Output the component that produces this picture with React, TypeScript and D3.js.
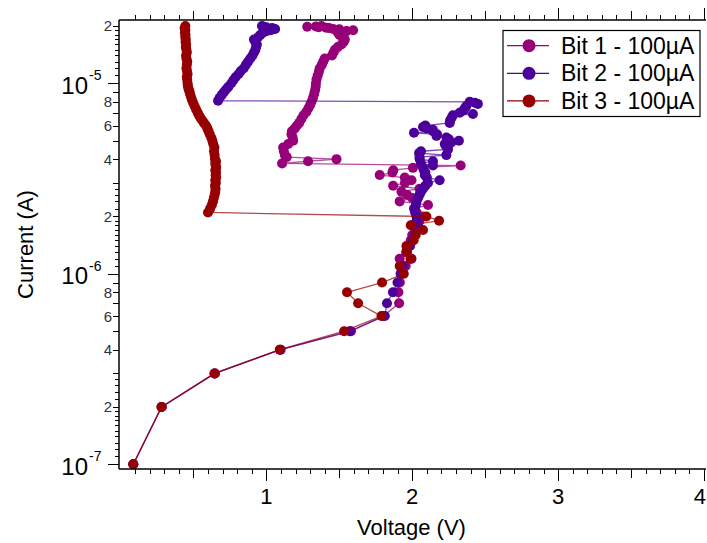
import React from "react";
import * as d3 from "d3";

// ---- Data (current in µA, voltage in V) ----
const bit1Current = [0.1,0.2,0.3,0.4,0.5,0.6,0.7,0.8,0.9,1.0,1.1,1.2,1.3,1.4,1.5,1.6,1.7,1.8,1.9,2.0,2.1,2.2,2.3,2.4,2.5,2.6,2.7,2.8,2.9,3.0,3.1,3.2,3.3,3.4,3.5,3.6,3.7,3.8,3.9,4.0,4.1,4.2,4.4,4.6,4.8,5.0,5.2,5.4,5.6,5.8,6.0,6.2,6.5,6.8,7.1,7.4,7.7,8.0,8.4,8.8,9.2,9.6,10.0,10.5,11.0,11.5,12.0,12.5,13.0,13.5,14.0,14.5,15.0,15.5,16.0,16.5,17.0,17.5,18.0,18.3,18.5,18.8,19.0,19.2,19.3,19.5,19.6,19.7,19.8,19.9,20.0];
const bit1Voltage = [0.088,0.282,0.648,1.098,1.58,1.80,1.91,1.905,1.915,1.93,1.955,1.914,1.96,1.975,1.99,2.0,2.02,2.0,2.05,2.07,2.03,2.012,2.108,1.914,2.0,1.964,1.926,2.05,1.869,1.95,1.995,1.949,1.777,1.864,1.87,2.005,2.332,1.108,1.286,1.481,1.14,1.127,1.12,1.115,1.15,1.184,1.18,1.172,1.175,1.195,1.21,1.225,1.24,1.255,1.275,1.288,1.30,1.31,1.32,1.328,1.334,1.338,1.34,1.344,1.352,1.36,1.366,1.38,1.39,1.40,1.45,1.46,1.47,1.49,1.515,1.53,1.538,1.52,1.50,1.53,1.49,1.55,1.595,1.50,1.458,1.43,1.41,1.36,1.28,1.34,1.378];

const bit2Current = [0.1,0.2,0.3,0.4,0.5,0.6,0.7,0.8,0.9,1.0,1.1,1.2,1.3,1.4,1.5,1.6,1.7,1.8,1.9,2.0,2.1,2.2,2.3,2.4,2.5,2.6,2.7,2.8,2.9,3.0,3.1,3.2,3.3,3.4,3.5,3.6,3.7,3.8,3.9,4.0,4.1,4.2,4.3,4.4,4.5,4.6,4.7,4.8,4.9,5.0,5.1,5.2,5.3,5.4,5.5,5.6,5.7,5.8,5.9,6.0,6.2,6.4,6.6,6.8,6.9,7.0,7.2,7.4,7.6,7.8,7.9,8.0,8.1,8.4,8.7,9.0,9.3,9.6,10.0,10.4,10.8,11.2,11.6,12.0,12.5,13.0,13.5,14.0,14.5,15.0,15.5,16.0,16.5,17.0,17.5,18.0,18.5,18.8,19.0,19.3,19.5,19.7,19.8,20.0];
const bit2Voltage = [0.088,0.282,0.645,1.095,1.572,1.812,1.827,1.868,1.899,1.92,1.935,1.995,1.96,1.985,2.005,2.02,2.035,2.04,2.03,2.029,2.02,2.017,2.025,2.029,2.04,2.05,2.06,2.074,2.09,2.108,2.188,2.10,2.086,2.09,2.08,2.074,2.142,2.06,2.142,2.051,2.05,2.234,2.047,2.06,2.245,2.245,2.23,2.223,2.268,2.32,2.25,2.234,2.166,2.17,2.012,2.142,2.142,2.10,2.074,2.09,2.257,2.26,2.27,2.279,2.416,2.325,2.35,2.36,2.371,2.45,2.43,2.394,0.669,0.68,0.695,0.71,0.725,0.74,0.76,0.775,0.79,0.81,0.825,0.845,0.86,0.875,0.89,0.905,0.915,0.925,0.93,0.935,0.925,0.915,0.945,0.96,0.98,1.0,1.03,1.06,1.04,1.0,0.98,0.97];

const bit3Current = [0.1,0.2,0.3,0.4,0.5,0.6,0.7,0.8,0.9,1.0,1.1,1.2,1.3,1.4,1.5,1.6,1.7,1.8,1.9,2.0,2.1,2.2,2.3,2.4,2.5,2.6,2.7,2.8,2.9,3.0,3.1,3.2,3.3,3.4,3.5,3.6,3.7,3.8,3.9,4.0,4.2,4.4,4.6,4.8,5.0,5.2,5.4,5.6,5.8,6.0,6.2,6.4,6.6,6.8,7.0,7.3,7.6,7.9,8.2,8.5,8.8,9.1,9.4,9.7,10.0,10.4,10.8,11.2,11.6,12.0,12.5,13.0,13.5,14.0,14.5,15.0,15.5,16.0,16.5,17.0,17.5,18.0,18.5,19.0,19.5,20.0];
const bit3Voltage = [0.088,0.282,0.645,1.092,1.533,1.789,1.629,1.553,1.793,1.942,1.914,1.988,1.964,1.96,2.01,2.024,2.074,1.99,2.184,2.097,0.600,0.615,0.626,0.634,0.640,0.646,0.650,0.652,0.648,0.654,0.650,0.656,0.652,0.655,0.650,0.656,0.653,0.650,0.655,0.648,0.645,0.641,0.644,0.636,0.630,0.622,0.612,0.604,0.596,0.586,0.572,0.560,0.548,0.538,0.530,0.518,0.508,0.498,0.490,0.483,0.477,0.472,0.466,0.462,0.460,0.458,0.455,0.460,0.456,0.452,0.455,0.458,0.452,0.450,0.455,0.452,0.448,0.450,0.446,0.448,0.444,0.446,0.442,0.445,0.440,0.445];

const seriesNames = ["Bit 1 - 100\u00b5A", "Bit 2 - 100\u00b5A", "Bit 3 - 100\u00b5A"];
const seriesColors = ["#960078", "#4b009b", "#960000"];
const xTickLabels = ["1", "2", "3", "4"];
const yDecades = [-7, -6, -5];
const yMinorLabels = [2, 4, 6, 8];

const W = 707, H = 543;
const L = 119, R = 704, T = 20, B = 469;
const FONT = "'Liberation Sans', Arial, Helvetica, sans-serif";

export default function App() {
  const x = d3.scaleLinear().domain([-0.01, 4.0]).range([L, R]);
  const y = d3.scaleLog().domain([9.45e-8, 2.15e-5]).range([B, T]);

  const series = [
    { c: bit1Current, v: bit1Voltage },
    { c: bit2Current, v: bit2Voltage },
    { c: bit3Current, v: bit3Voltage },
  ].map((s, i) => ({
    name: seriesNames[i],
    color: seriesColors[i],
    pts: s.c.map((c, j) => [s.v[j], c * 1e-6] as [number, number]),
  }));

  const line = d3.line<[number, number]>().x(d => x(d[0])).y(d => y(d[1]));

  const xTicks = d3.range(1, 41).map(i => i / 10);
  const yTicks: { v: number; len: number }[] = [];
  for (const e of [-8, -7, -6, -5]) {
    const mult = [1, 1.1, 1.2, 1.3, 1.4, 1.5, 1.6, 1.7, 1.8, 1.9, 2, 2.2, 2.4, 2.6, 2.8, 3, 4, 5, 6, 7, 8, 9];
    for (const k of mult) {
      const v = k * Math.pow(10, e);
      if (v < 9.45e-8 || v > 2.15e-5) continue;
      const len = k === 1 ? 11 : Number.isInteger(k) ? 6 : 4;
      yTicks.push({ v, len });
    }
  }

  return (
    <div style={{ position: "absolute", left: 0, top: 0 }}>
      <svg width={W} height={H} style={{ display: "block", background: "#fff" }} fontFamily={FONT}>
        <rect x={0} y={0} width={W} height={H} fill="#fff" />
        {series.map((s, i) => (
          <g key={i}>
            <path d={line(s.pts) || ""} fill="none" stroke={s.color} strokeWidth={1.3} strokeOpacity={0.7} />
            {s.pts.map((p, j) => (
              <circle key={j} cx={x(p[0])} cy={y(p[1])} r={5} fill={s.color} />
            ))}
          </g>
        ))}
        <line x1={L} y1={T} x2={L} y2={B} stroke="#000" strokeWidth={1.5} />
        <line x1={L} y1={B} x2={706} y2={B} stroke="#000" strokeWidth={1.5} />
        <line x1={L} y1={T} x2={706} y2={T} stroke="#000" strokeWidth={1.5} />
        {xTicks.map((t, i) => {
          const isInt = Math.abs(t - Math.round(t)) < 1e-6;
          const isHalf = Math.abs(t * 2 - Math.round(t * 2)) < 1e-6;
          const len = isInt ? 12 : isHalf ? 9 : 5;
          const xx = Math.round(x(t)) + 0.5;
          return (
            <g key={i}>
              <line x1={xx} x2={xx} y1={B} y2={B + len} stroke="#000" strokeWidth={1} />
              <line x1={xx} x2={xx} y1={T} y2={T - len} stroke="#000" strokeWidth={1} />
            </g>
          );
        })}
        {xTickLabels.map((lab, i) => {
          const last = i === xTickLabels.length - 1;
          return (
            <text key={lab} x={last ? 706 : x(i + 1)} y={504} fontSize={22} textAnchor={last ? "end" : "middle"} fill="#000">{lab}</text>
          );
        })}
        <text x={(L + R) / 2} y={535} fontSize={22} textAnchor="middle" fill="#000">Voltage (V)</text>
        {yTicks.map((t, i) => {
          const yy = Math.round(y(t.v)) + 0.5;
          return <line key={i} x1={L - t.len} x2={L} y1={yy} y2={yy} stroke="#000" strokeWidth={1} />;
        })}
        {yDecades.map(e => {
          const yy = y(Math.pow(10, e));
          return (
            <g key={e}>
              <text x={88} y={yy + 10.5} fontSize={24} textAnchor="end" fill="#000">10</text>
              <text x={89} y={yy - 3} fontSize={14} textAnchor="start" fill="#000">{"-" + -e}</text>
            </g>
          );
        })}
        {yDecades.flatMap(e =>
          yMinorLabels.map(k => {
            const v = k * Math.pow(10, e);
            if (v > 2.15e-5) return null;
            return (
              <text key={e + "_" + k} x={112} y={y(v) + 5.5} fontSize={15} textAnchor="end" fill="#333">{k}</text>
            );
          })
        )}
        <text transform={`translate(33,${(T + B) / 2}) rotate(-90)`} fontSize={22} textAnchor="middle" fill="#000">Current (A)</text>
        <rect x={503} y={30.5} width={197} height={86} fill="#fff" stroke="#000" strokeWidth={1.2} />
        {series.map((s, i) => {
          const yy = 45.7 + i * 27.6;
          return (
            <g key={i}>
              <line x1={507} x2={549} y1={yy} y2={yy} stroke={s.color} strokeWidth={1.3} />
              <circle cx={529} cy={yy} r={6.5} fill={s.color} />
              <text x={561} y={yy + 8} fontSize={23} fill="#000">{s.name}</text>
            </g>
          );
        })}
      </svg>
    </div>
  );
}
